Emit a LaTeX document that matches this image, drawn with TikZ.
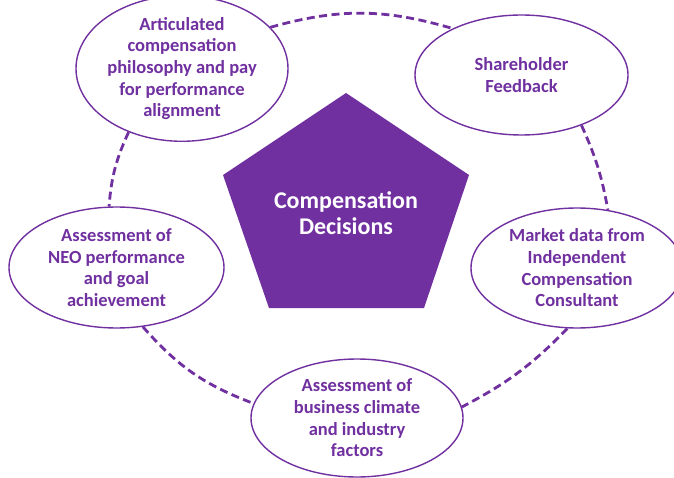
\documentclass[tikz,border=0pt]{standalone}
\usepackage{fontspec}
\setmainfont{Carlito}
\usetikzlibrary{shapes.geometric}
\definecolor{vio}{HTML}{7030A0}
\tikzset{
  bubble/.style={ellipse, draw=vio, line width=1.4pt, fill=white, inner sep=0pt,
    text=vio, align=center, font=\fontsize{18.5}{21.7}\selectfont\bfseries},
  conn/.style={draw=vio, line width=2.8pt, dash pattern=on 8pt off 4.5pt},
  centertext/.style={text=white, align=center, font=\fontsize{24}{26.5}\selectfont\bfseries}
}
\begin{document}
\begin{tikzpicture}[x=1pt,y=1pt]
\useasboundingbox (0,0) rectangle (674,477);
\clip (0,0) rectangle (674,477);
% pentagon
\fill[vio] (346,384) -- (469,302) -- (424,169) -- (269,169) -- (223,302) -- cycle;
\node[centertext] (dec) at (346,264) {Compensation\\Decisions};
% bubbles
\node[bubble, minimum width=212pt, minimum height=121pt] (e1) at (182,408.5)
  {Articulated\\compensation\\philosophy and pay\\for performance\\alignment};
\node[bubble, minimum width=213pt, minimum height=120pt] (e2) at (521.5,402)
  {Shareholder\\Feedback};
\node[bubble, minimum width=212pt, minimum height=120pt] (e3) at (577,209)
  {Market data from\\Independent\\Compensation\\Consultant};
\node[bubble, minimum width=215pt, minimum height=121pt] (e4) at (116.5,209.5)
  {Assessment of\\NEO performance\\and goal\\achievement};
\node[bubble, minimum width=212pt, minimum height=118pt] (e5) at (357,59)
  {Assessment of\\business climate\\and industry\\factors};
% connectors
\draw[conn] (e1.25.4) to[bend left=16] (e2.146.9);
\draw[conn] (e1.230) to[bend right=10] (e4.97.7);
\draw[conn] (e2.-40.5) to[bend left=7] (e3.62.3);
\draw[conn] (e4.-66) to[bend right=14] (e5.172.5);
\draw[conn] (e3.-99) to[bend left=9] (e5.6.6);
\end{tikzpicture}
\end{document}
